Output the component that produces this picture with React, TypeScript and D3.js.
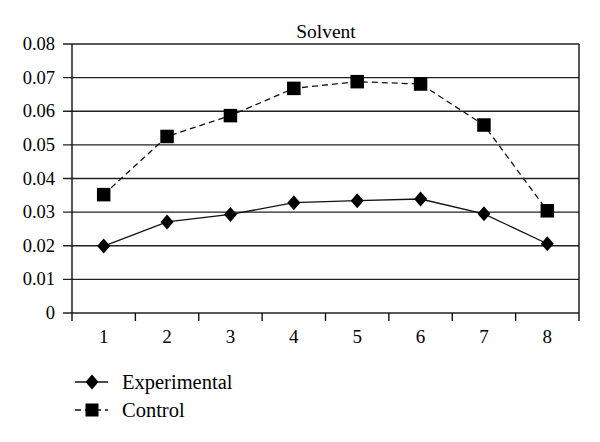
import React from "react";
import * as d3 from "d3";

const categories = ["1", "2", "3", "4", "5", "6", "7", "8"];
const experimental = [0.0199, 0.0271, 0.0293, 0.0328, 0.0334, 0.0339, 0.0295, 0.0206];
const control = [0.0352, 0.0525, 0.0587, 0.0668, 0.0688, 0.0681, 0.0559, 0.0304];
const yTicks = [0, 0.01, 0.02, 0.03, 0.04, 0.05, 0.06, 0.07, 0.08];
const title = "Solvent";
const seriesNames = ["Experimental", "Control"];

const W = 600, H = 442;
const left = 72, right = 579, top = 44, bottom = 313;
const font = "Liberation Serif";

export default function App() {
  const x = d3.scaleBand<string>().domain(categories).range([left, right]);
  const y = d3.scaleLinear().domain([0, 0.08]).range([bottom, top]);
  const cx = (c: string) => (x(c) as number) + x.bandwidth() / 2;
  const line = d3.line<number>().x((_, i) => cx(categories[i])).y((d) => y(d));
  const diamond = (px: number, py: number, w = 6.5, h = 7.5) =>
    `M${px},${py - h}L${px + w},${py}L${px},${py + h}L${px - w},${py}Z`;
  const sq = 13.5;
  const bounds = d3.range(categories.length + 1).map((i) => left + i * x.step());
  const fmt = (t: number) => (t === 0 ? "0" : t.toFixed(2));

  return (
    <svg width={W} height={H} style={{ position: "absolute", left: 0, top: 0, background: "#fff" }}>
      <rect width={W} height={H} fill="#fff" />
      <text x={326} y={38} textAnchor="middle" style={{ fontFamily: font, fontSize: 19.5 }}>{title}</text>
      {yTicks.map((t) => (
        <g key={t}>
          <line x1={left - 9} x2={right} y1={y(t)} y2={y(t)} stroke="#222" strokeWidth={1.3} />
          <text x={55} y={y(t) + 6} textAnchor="end" style={{ fontFamily: font, fontSize: 18.5 }}>{fmt(t)}</text>
        </g>
      ))}
      <line x1={left} x2={left} y1={top} y2={bottom} stroke="#111" strokeWidth={1.4} />
      <line x1={right} x2={right} y1={top} y2={bottom} stroke="#111" strokeWidth={1.4} />
      {bounds.map((b, i) => (
        <line key={i} x1={b} x2={b} y1={bottom} y2={bottom + 8} stroke="#111" strokeWidth={1.4} />
      ))}
      {categories.map((c) => (
        <text key={c} x={cx(c)} y={343} textAnchor="middle" style={{ fontFamily: font, fontSize: 19 }}>{c}</text>
      ))}
      <path d={line(control) || ""} fill="none" stroke="#111" strokeWidth={1.3} strokeDasharray="6,4" />
      <path d={line(experimental) || ""} fill="none" stroke="#111" strokeWidth={1.3} />
      {control.map((v, i) => (
        <rect key={i} x={cx(categories[i]) - sq / 2} y={y(v) - sq / 2} width={sq} height={sq} fill="#000" />
      ))}
      {experimental.map((v, i) => (
        <path key={i} d={diamond(cx(categories[i]), y(v))} fill="#000" />
      ))}
      <g>
        <line x1={75} x2={108} y1={382} y2={382} stroke="#111" strokeWidth={1.3} />
        <path d={diamond(92, 382)} fill="#000" />
        <text x={122} y={389} style={{ fontFamily: font, fontSize: 20.5 }}>{seriesNames[0]}</text>
        <line x1={75} x2={108} y1={410} y2={410} stroke="#111" strokeWidth={1.3} strokeDasharray="6,4" />
        <rect x={92 - 6.5} y={410 - 6.5} width={13} height={13} fill="#000" />
        <text x={122} y={417} style={{ fontFamily: font, fontSize: 20.5 }}>{seriesNames[1]}</text>
      </g>
    </svg>
  );
}
